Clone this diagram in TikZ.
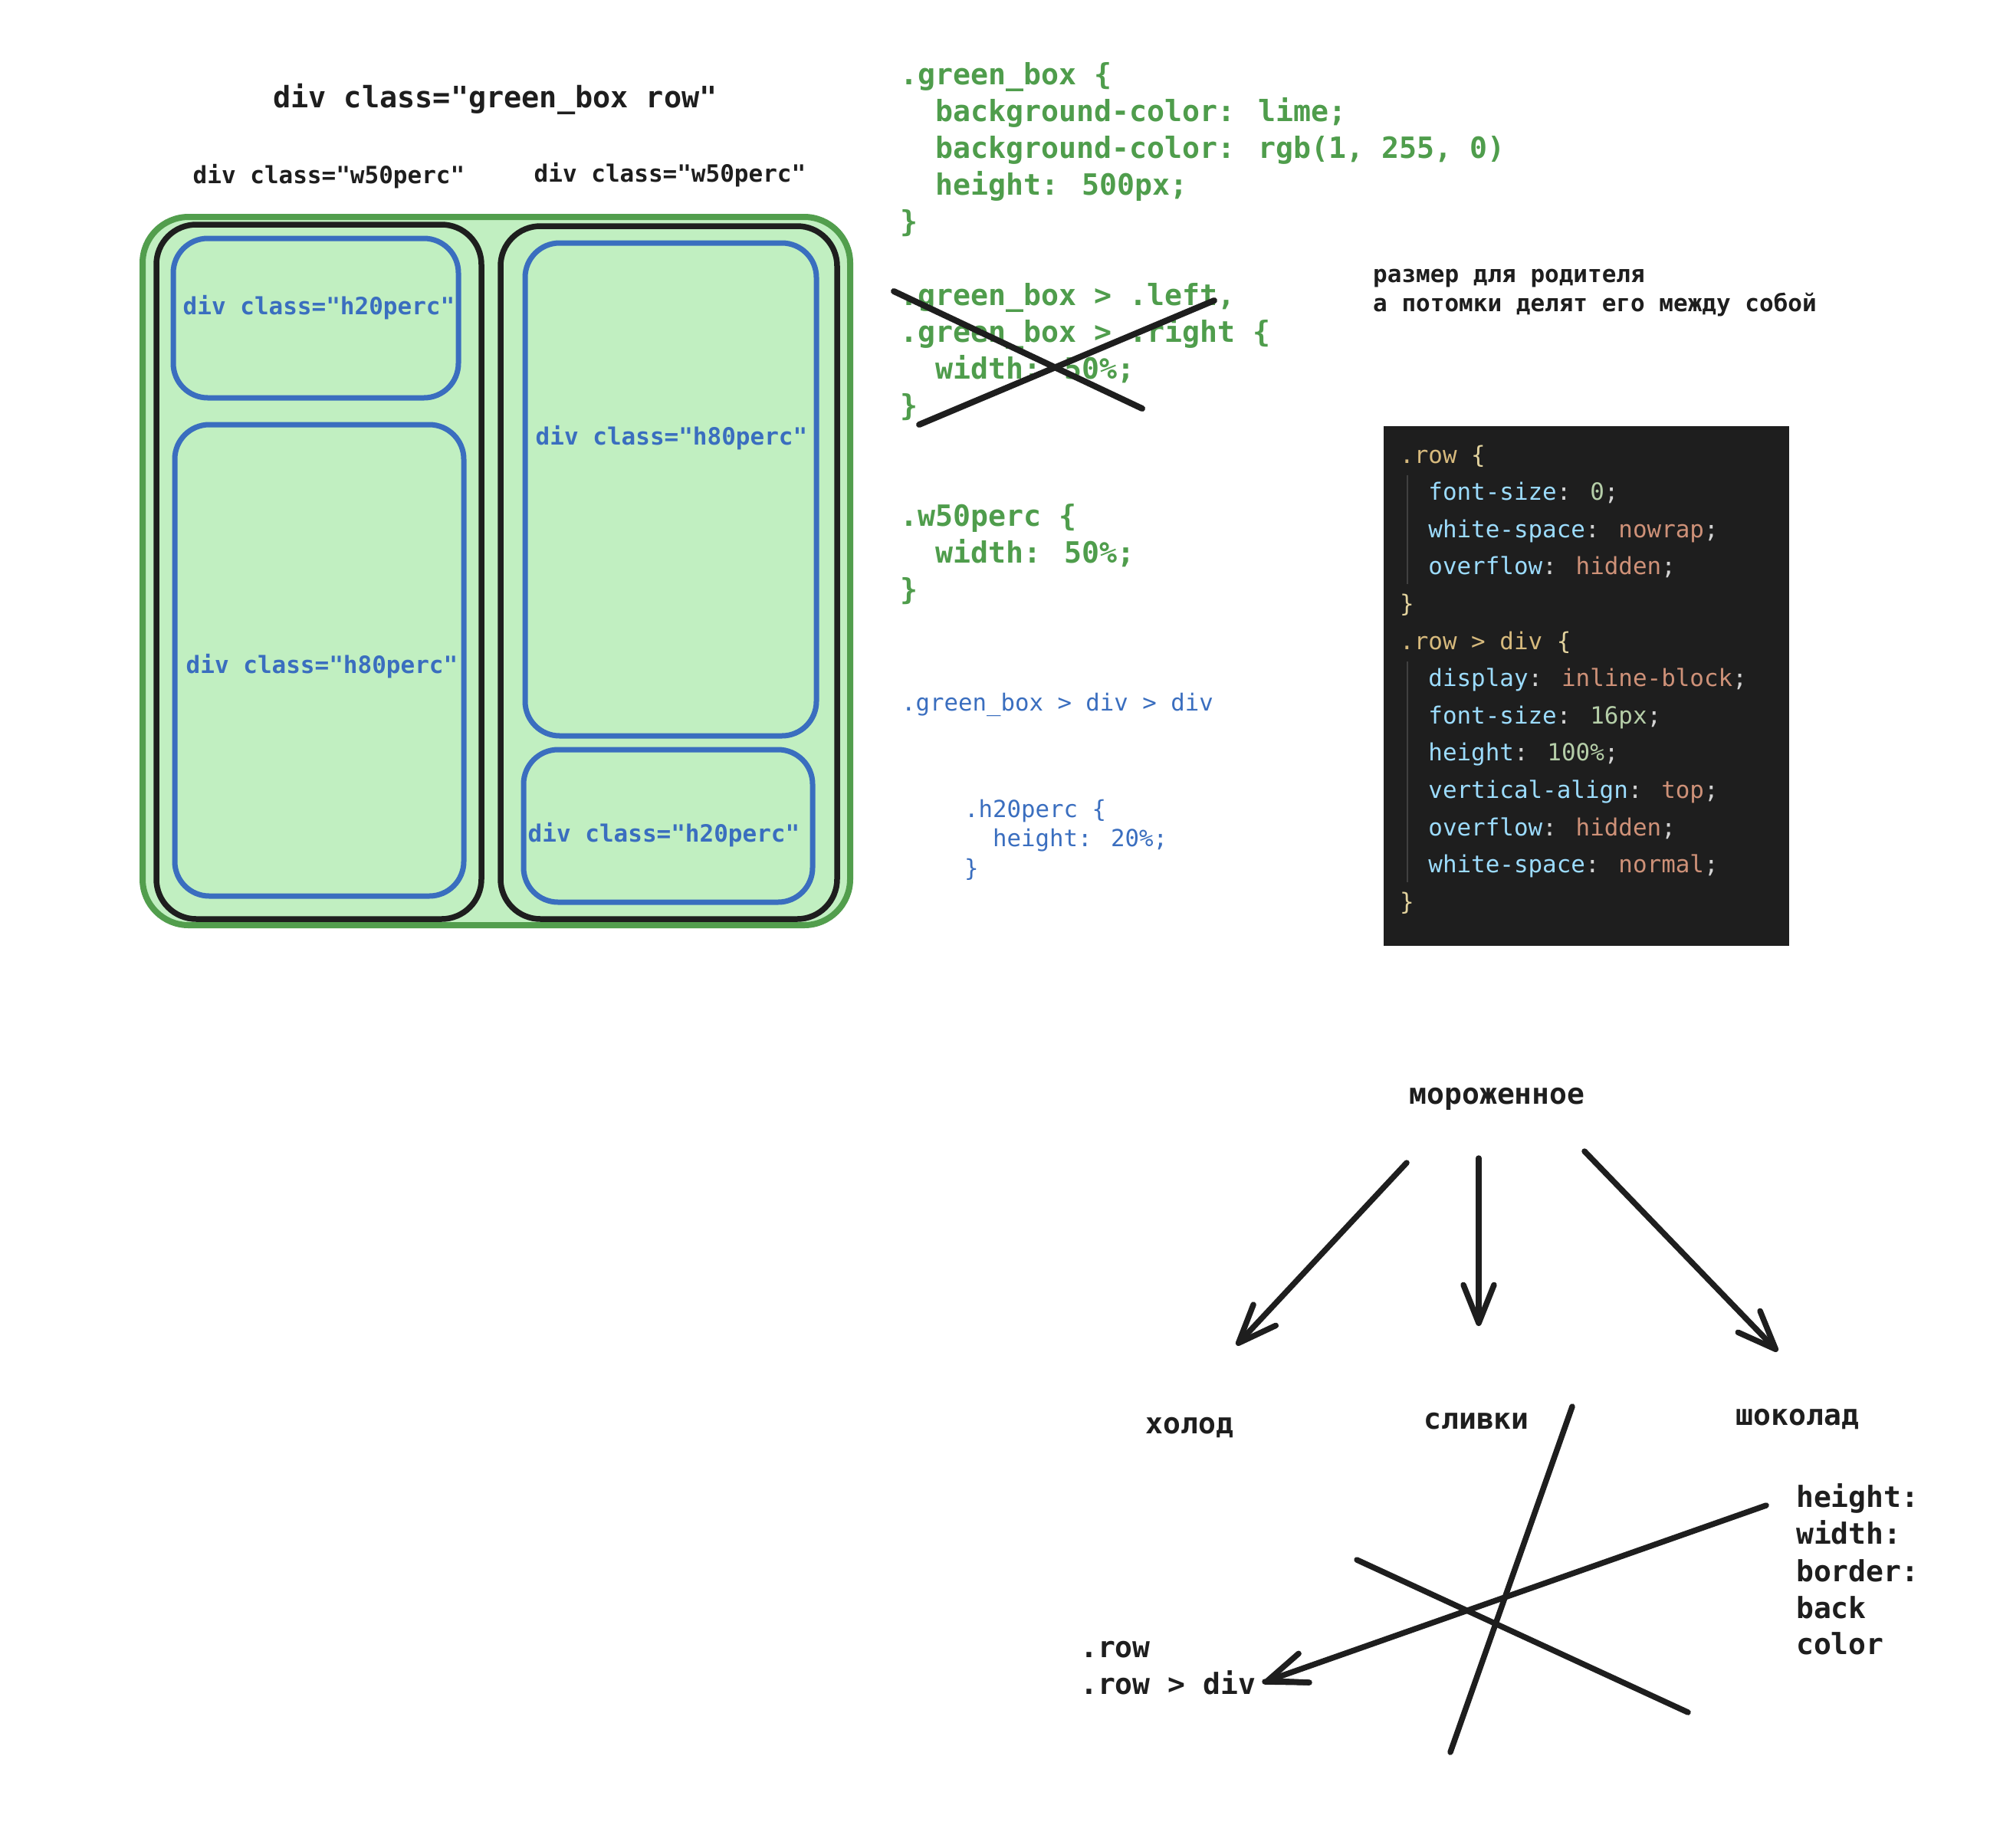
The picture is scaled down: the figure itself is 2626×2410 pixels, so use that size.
\documentclass[tikz,border=0pt]{standalone}
\usepackage{fontspec}
\usetikzlibrary{arrows.meta}
\newfontfamily\cf{DejaVu Sans Mono}
\definecolor{gstroke}{HTML}{529E4D}
\definecolor{gfill}{HTML}{C1EFC1}
\definecolor{bstroke}{HTML}{3A6EBF}
\definecolor{ink}{HTML}{1E1E1E}
\definecolor{gtext}{HTML}{4F9D4C}
\definecolor{btext}{HTML}{3A6EBF}
\definecolor{vsbg}{HTML}{1E1E1E}
\definecolor{vssel}{HTML}{D7BA7D}
\definecolor{vsbr}{HTML}{E3D39E}
\definecolor{vsprop}{HTML}{9CDCFE}
\definecolor{vsval}{HTML}{CE9178}
\definecolor{vsnum}{HTML}{B5CEA8}
\definecolor{vspun}{HTML}{D4D4D4}
\definecolor{vsguide}{HTML}{404040}
\newcommand\fsz[1]{\fontsize{#1}{#1}\selectfont}
\newcommand\ind{\hphantom{xx}}
\newcommand\CSel[1]{{\color{vssel}#1}}
\newcommand\CBr[1]{{\color{vsbr}#1}}
\newcommand\CPr[1]{{\color{vsprop}#1}}
\newcommand\CVa[1]{{\color{vsval}#1}}
\newcommand\CNu[1]{{\color{vsnum}#1}}
\begin{document}
\begin{tikzpicture}[x=1pt,y=-1pt,
  gcode/.style={anchor=base west, inner sep=0pt, text=gtext, font=\cf\bfseries\fsz{38.2}},
  bcode/.style={anchor=base west, inner sep=0pt, text=btext, font=\cf\fsz{30.7}},
  note/.style={anchor=base west, inner sep=0pt, text=ink, font=\cf\bfseries\fsz{31}},
  vs/.style={anchor=base west, inner sep=0pt, text=vspun, font=\cf\fsz{30.9}},
  tree/.style={anchor=base, inner sep=0pt, text=ink, font=\cf\bfseries\fsz{38}},
  treel/.style={anchor=base west, inner sep=0pt, text=ink, font=\cf\bfseries\fsz{38}},
  lbl/.style={anchor=base, inner sep=0pt, text=ink, font=\cf\bfseries\fsz{31}},
  blbl/.style={anchor=base, inner sep=0pt, text=btext, font=\cf\bfseries\fsz{31}},
  ttl/.style={anchor=base, inner sep=0pt, text=ink, font=\cf\bfseries\fsz{38.5}},
  greenbox/.style={draw=gstroke, fill=gfill, line width=8pt, rounded corners=60pt},
  blackbox/.style={draw=ink, fill=gfill, line width=7.5pt, rounded corners=52pt},
  bluebox/.style={draw=bstroke, fill=gfill, line width=7pt, rounded corners=45pt},
  stroke/.style={draw=ink, line width=7.5pt, line cap=round, line join=round},
  arr/.style={stroke, -{Straight Barb[length=50pt 0 0, width=40pt 0 0, line cap=round, line join=round]}}
]
\useasboundingbox (0,0) rectangle (2626,2410);
\fill[white] (0,0) rectangle (2626,2410);

% ---- boxes ----
\draw[greenbox] (186,283) rectangle (1109,1207);
\draw[blackbox] (204,293) rectangle (628,1199);
\draw[blackbox] (653,295) rectangle (1092,1199);
\draw[bluebox] (226,311) rectangle (598,519);
\draw[bluebox] (228,554) rectangle (605,1169);
\draw[bluebox] (685,317) rectangle (1065,960);
\draw[bluebox] (683,978) rectangle (1060,1177);

\node[ttl] (title) at (646,140) {div class="green\_box row"};
\node[lbl] (w50l) at (429,239) {div class="w50perc"};
\node[lbl] (w50r) at (874,237) {div class="w50perc"};
\node[blbl] (h20l) at (416,410) {div class="h20perc"};
\node[blbl] (h80l) at (420,878) {div class="h80perc"};
\node[blbl] (h80r) at (876,580) {div class="h80perc"};
\node[blbl] (h20r) at (866,1098) {div class="h20perc"};

% ---- green code ----
\node[gcode] (g1) at (1174,110) {.green\_box \{};
\node[gcode] (g2) at (1174,158) {\ind background-color: lime;};
\node[gcode] (g3) at (1174,206) {\ind background-color: rgb(1, 255, 0)};
\node[gcode] (g4) at (1174,254) {\ind height: 500px;};
\node[gcode] (g5) at (1174,302) {\}};

\node[gcode] (x1) at (1174,398) {.green\_box > .left,};
\node[gcode] (x2) at (1174,446) {.green\_box > .right \{};
\node[gcode] (x3) at (1174,494) {\ind width: 50\%;};
\node[gcode] (x4) at (1174,542) {\}};
\draw[stroke, line width=8pt] (1166,380) -- (1490,533);
\draw[stroke, line width=8pt] (1199,554) -- (1584,392);

\node[gcode] (w1) at (1174,686) {.w50perc \{};
\node[gcode] (w2) at (1174,734) {\ind width: 50\%;};
\node[gcode] (w3) at (1174,782) {\}};

\node[bcode] (sel) at (1176,927) {.green\_box > div > div};
\node[bcode] (h1) at (1258,1066) {.h20perc \{};
\node[bcode] (h2) at (1258,1104) {\ind height: 20\%;};
\node[bcode] (h3) at (1258,1143) {\}};

\node[note] (n1) at (1791,368) {размер для родителя};
\node[note] (n2) at (1791,406) {а потомки делят его между собой};

% ---- dark code box ----
\fill[vsbg] (1805,556) rectangle (2334,1234);
\draw[vsguide, line width=2pt] (1836,620) -- (1836,762);
\draw[vsguide, line width=2pt] (1836,863) -- (1836,1151);
\node[vs] (c1) at (1826,604) {\CSel{.row} \CBr{\{}};
\node[vs] (c2) at (1826,652.6) {\ind\CPr{font-size}: \CNu{0};};
\node[vs] (c3) at (1826,701.2) {\ind\CPr{white-space}: \CVa{nowrap};};
\node[vs] (c4) at (1826,749.8) {\ind\CPr{overflow}: \CVa{hidden};};
\node[vs] (c5) at (1826,798.4) {\CBr{\}}};
\node[vs] (c6) at (1826,847) {\CSel{.row > div} \CBr{\{}};
\node[vs] (c7) at (1826,895.6) {\ind\CPr{display}: \CVa{inline-block};};
\node[vs] (c8) at (1826,944.2) {\ind\CPr{font-size}: \CNu{16px};};
\node[vs] (c9) at (1826,992.8) {\ind\CPr{height}: \CNu{100\%};};
\node[vs] (c10) at (1826,1041.4) {\ind\CPr{vertical-align}: \CVa{top};};
\node[vs] (c11) at (1826,1090) {\ind\CPr{overflow}: \CVa{hidden};};
\node[vs] (c12) at (1826,1138.6) {\ind\CPr{white-space}: \CVa{normal};};
\node[vs] (c13) at (1826,1187.2) {\CBr{\}}};

% ---- tree ----
\node[tree] (ice) at (1953,1440) {мороженное};
\node[tree] (cold) at (1552,1870) {холод};
\node[tree] (cream) at (1926,1864) {сливки};
\node[tree] (choc) at (2345,1859) {шоколад};

\coordinate (a1s) at (1835,1517); \coordinate (a1e) at (1613,1755);
\coordinate (a2s) at (1929,1511); \coordinate (a2e) at (1929,1730);
\coordinate (a3s) at (2067,1502); \coordinate (a3e) at (2319,1763);
\draw[arr] (a1s) -- (a1e);
\draw[arr] (a2s) -- (a2e);
\draw[arr] (a3s) -- (a3e);

\node[treel] (r1) at (1409,2162) {.row};
\node[treel] (r2) at (1409,2210) {.row > div};

\node[treel] (p1) at (2343,1966) {height:};
\node[treel] (p2) at (2343,2014) {width:};
\node[treel] (p3) at (2343,2063) {border:};
\node[treel] (p4) at (2343,2111) {back};
\node[treel] (p5) at (2343,2158) {color};

\draw[stroke] (2051,1835) -- (1892,2286);
\draw[stroke] (1770,2035) -- (2202,2234);
\coordinate (a4s) at (2304,1964); \coordinate (a4e) at (1650,2194);
\coordinate (a4t) at (1708,2195);
\draw[arr] (a4s) -- (a4e);
\draw[stroke] (a4e) -- (a4t);
\end{tikzpicture}
\end{document}
